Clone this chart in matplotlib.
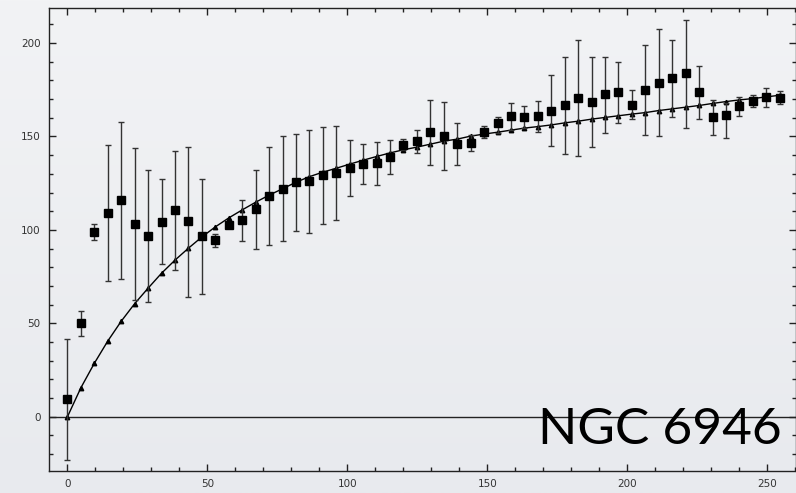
import numpy as np
import matplotlib
matplotlib.use('Agg')
import matplotlib.pyplot as plt
from matplotlib.ticker import MultipleLocator

# galactocentric radius of each ring
radius = [0.0, 4.8, 9.6, 14.4, 19.2, 24.0, 28.8, 33.6, 38.4, 43.2,
          48.0, 52.8, 57.6, 62.4, 67.2, 72.0, 76.8, 81.6, 86.4, 91.2,
          96.0, 100.8, 105.6, 110.4, 115.2, 120.0, 124.8, 129.6, 134.4, 139.2,
          144.0, 148.8, 153.6, 158.4, 163.2, 168.0, 172.8, 177.6, 182.4, 187.2,
          192.0, 196.8, 201.6, 206.4, 211.2, 216.0, 220.8, 225.6, 230.4, 235.2,
          240.0, 244.8, 249.6, 254.4]

# measured rotation velocity
vel = [9.3, 50.0, 98.8, 108.9, 115.9, 103.0, 96.6, 104.1, 110.6, 104.8,
       96.6, 94.5, 102.7, 105.4, 111.1, 118.1, 122.0, 125.5, 126.4, 129.5,
       130.5, 133.4, 135.4, 135.9, 139.1, 145.4, 147.7, 152.5, 150.2, 146.2,
       146.6, 152.3, 157.3, 160.9, 160.5, 161.0, 163.6, 166.8, 170.5, 168.6,
       172.7, 173.8, 166.8, 174.8, 178.7, 181.2, 184.1, 173.8, 160.5, 161.4,
       166.3, 168.9, 171.2, 170.7]

# upper / lower ends of the error bars
vel_top = [41.8, 56.5, 103.0, 145.7, 157.8, 144.1, 132.1, 127.1, 142.5, 144.5,
           127.1, 98.0, 104.2, 116.1, 132.0, 144.3, 150.2, 151.3, 153.7, 155.0,
           155.5, 148.2, 146.1, 147.3, 148.0, 148.4, 153.7, 169.6, 168.6, 157.1,
           150.7, 155.7, 160.7, 167.9, 166.1, 169.2, 182.7, 192.7, 201.4, 192.5,
           192.7, 190.0, 174.8, 199.1, 207.5, 201.9, 212.6, 187.7, 169.8, 168.0,
           171.1, 172.0, 176.1, 174.5]
vel_bottom = [-23.2, 43.2, 94.5, 72.7, 73.8, 62.3, 61.3, 81.6, 78.4, 64.3,
              65.9, 90.9, 101.2, 94.0, 90.0, 92.1, 93.9, 99.6, 98.4, 103.2,
              105.4, 118.4, 124.6, 124.1, 130.0, 142.9, 141.0, 134.6, 132.1, 135.0,
              142.1, 149.3, 152.0, 153.4, 154.3, 152.3, 145.0, 140.7, 139.6, 144.5,
              152.1, 157.1, 159.3, 150.9, 150.0, 160.5, 154.8, 159.6, 150.9, 149.4,
              161.1, 165.7, 165.7, 167.5]

# fitted model curve
model = [0.0, 15.5, 28.6, 40.5, 51.1, 60.5, 68.8, 76.8, 83.8, 90.2,
         96.2, 101.6, 106.4, 110.7, 114.8, 118.6, 122.0, 125.5, 128.5, 130.9,
         133.0, 135.2, 137.3, 139.3, 141.2, 142.9, 144.3, 145.9, 147.5, 148.6,
         150.2, 151.3, 152.3, 153.4, 154.5, 155.3, 156.2, 157.3, 158.2, 159.3,
         160.2, 161.1, 162.0, 162.8, 163.9, 164.8, 165.7, 166.6, 167.7, 168.7,
         169.6, 170.3, 171.2, 172.1]

title = 'NGC 6946'

v = np.array(vel)
yerr = [v - np.array(vel_bottom), np.array(vel_top) - v]

fig = plt.figure(figsize=(7.96, 4.93), dpi=100)

# soft grey gradient behind everything
bg = fig.add_axes([0, 0, 1, 1], zorder=-10)
grad = np.linspace(0, 1, 256).reshape(-1, 1)
bg.imshow(grad, aspect='auto', extent=(0, 1, 0, 1),
          cmap=matplotlib.colors.LinearSegmentedColormap.from_list(
              'bg', ['#f2f3f5', '#e8eaee']), origin='upper')
bg.set_axis_off()

ax = fig.add_axes([49 / 796, 22 / 493, 747 / 796, 463 / 493])
ax.set_facecolor('none')

ax.axhline(0, color='#222222', lw=1.0, zorder=1)

ax.plot(radius, model, color='black', lw=1.0, marker='^', ms=3.2,
        zorder=2)
ax.errorbar(radius, vel, yerr=yerr, fmt='s', color='black', ms=6,
            ecolor='#333333', elinewidth=1.0, capsize=2.2, capthick=1.0,
            zorder=3)

ax.text(255.2, -14.6, title, ha='right', va='baseline', fontsize=37,
        family=['Lato', 'DejaVu Sans'], color='black', zorder=4)

ax.set_xlim(-6.6, 260.2)
ax.set_ylim(-29.1, 218.8)
ax.xaxis.set_major_locator(MultipleLocator(50))
ax.xaxis.set_minor_locator(MultipleLocator(10))
ax.yaxis.set_major_locator(MultipleLocator(50))
ax.yaxis.set_minor_locator(MultipleLocator(10))
ax.tick_params(which='both', direction='in', top=True, right=True,
               color='#222222', width=1.0, labelsize=7.5, labelcolor='#333333',
               pad=6)
ax.tick_params(which='major', length=5)
ax.tick_params(which='minor', length=3)
for s in ax.spines.values():
    s.set_color('#222222')
    s.set_linewidth(1.0)

fig.savefig('out.png', dpi=100)
